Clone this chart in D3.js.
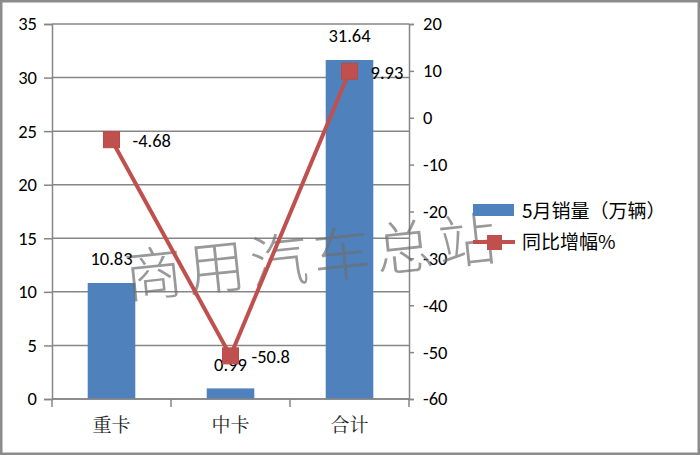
<!DOCTYPE html>
<html><head><meta charset="utf-8">
<script src="https://cdn.jsdelivr.net/npm/d3@7"></script>
<style>html,body{margin:0;padding:0;background:#fff;}</style>
</head><body>
<svg id="c" width="700" height="455"></svg>
<script>
const categories = ["重卡", "中卡", "合计"];
const sales = [10.83, 0.99, 31.64];
const growth = [-4.68, -50.8, 9.93];
const leftTicks = [0, 5, 10, 15, 20, 25, 30, 35];
const rightTicks = [-60, -50, -40, -30, -20, -10, 0, 10, 20];
const seriesNames = ["5月销量（万辆）", "同比增幅%"];
const watermark = "商用汽车总站";

const svg = d3.select("#c");
const W = 700, H = 455;
const m = {left: 52, right: 409, top: 24, bottom: 399};
const numFont = "Carlito, Calibri, Lato, sans-serif";
const numSize = 18.5;
const cjkFont = "'Noto Sans CJK SC', sans-serif";
const gridColor = "#868686";
const blue = "#4F81BD", red = "#C0504D";

svg.append("rect").attr("x", 1.25).attr("y", 1.25).attr("width", W - 2.5).attr("height", H - 2.5)
  .attr("fill", "#fff").attr("stroke", "#8c8c8c").attr("stroke-width", 2.5);

const x = d3.scaleBand().domain(categories).range([m.left, m.right]).paddingInner(0.6).paddingOuter(0.3);
const xOuter = d3.scaleBand().domain(categories).range([m.left, m.right]);
const yL = d3.scaleLinear().domain([0, 35]).range([m.bottom, m.top]);
const yR = d3.scaleLinear().domain([-60, 20]).range([m.bottom, m.top]);

// gridlines
svg.append("g").selectAll("line").data(leftTicks).join("line")
  .attr("x1", m.left).attr("x2", m.right)
  .attr("y1", d => yL(d)).attr("y2", d => yL(d))
  .attr("stroke", gridColor).attr("stroke-width", 1.5);

// left axis
const gL = svg.append("g").attr("transform", `translate(${m.left},0)`)
  .call(d3.axisLeft(yL).tickValues(leftTicks).tickSize(8).tickPadding(7));
gL.select(".domain").attr("stroke", gridColor).attr("stroke-width", 1.5);
gL.selectAll(".tick line").attr("stroke", gridColor).attr("stroke-width", 1.5);
gL.selectAll(".tick text").attr("font-family", numFont).attr("font-size", numSize).attr("fill", "#000");

// right axis
const gR = svg.append("g").attr("transform", `translate(${m.right},0)`)
  .call(d3.axisRight(yR).tickValues(rightTicks).tickSize(5).tickPadding(9).tickFormat(d => String(d)));
gR.select(".domain").attr("stroke", gridColor).attr("stroke-width", 1.5);
gR.selectAll(".tick line").attr("stroke", gridColor).attr("stroke-width", 1.5);
gR.selectAll(".tick text").attr("font-family", numFont).attr("font-size", numSize).attr("fill", "#000");

// bars
svg.append("g").selectAll("rect").data(sales).join("rect")
  .attr("x", (d, i) => x(categories[i])).attr("width", x.bandwidth())
  .attr("y", d => yL(d)).attr("height", d => yL(0) - yL(d))
  .attr("fill", blue);

// bottom axis
const gB = svg.append("g").attr("transform", `translate(0,${m.bottom})`);
gB.append("line").attr("x1", m.left).attr("x2", m.right).attr("stroke", gridColor).attr("stroke-width", 1.5);
const bTicks = categories.map(c => xOuter(c)).concat([m.right]);
gB.selectAll("line.t").data(bTicks).join("line").attr("class", "t")
  .attr("x1", d => d).attr("x2", d => d).attr("y1", 0).attr("y2", 8)
  .attr("stroke", gridColor).attr("stroke-width", 1.5);
gB.selectAll("text").data(categories).join("text")
  .attr("x", d => xOuter(d) + xOuter.bandwidth() / 2).attr("y", 26)
  .attr("dy", "0.35em").attr("text-anchor", "middle")
  .attr("font-family", "'Noto Serif CJK SC', " + cjkFont).attr("font-size", 19).attr("fill", "#222")
  .text(d => d);

// watermark
svg.append("text").attr("transform", "translate(127,298) rotate(-6)")
  .attr("font-family", cjkFont).attr("font-weight", 200).attr("font-size", 58)
  .attr("letter-spacing", 5)
  .attr("fill", "#6e6e6e").attr("fill-opacity", 0.7).text(watermark);

// bar labels
svg.append("g").selectAll("text").data(sales).join("text")
  .attr("x", (d, i) => xOuter(categories[i]) + xOuter.bandwidth() / 2)
  .attr("y", d => yL(d) - 24).attr("dy", "0.35em").attr("text-anchor", "middle")
  .attr("font-family", numFont).attr("font-size", numSize).attr("fill", "#000")
  .text(d => d.toFixed(2));

// line
const cx = i => xOuter(categories[i]) + xOuter.bandwidth() / 2;
svg.append("path").datum(growth)
  .attr("d", d3.line().x((d, i) => cx(i)).y(d => yR(d)))
  .attr("fill", "none").attr("stroke", red).attr("stroke-width", 4);
svg.append("g").selectAll("rect").data(growth).join("rect")
  .attr("x", (d, i) => cx(i) - 8).attr("y", d => yR(d) - 8)
  .attr("width", 16).attr("height", 16).attr("fill", red).attr("stroke", "#b84a47").attr("stroke-width", 1);
svg.append("g").selectAll("text").data(growth).join("text")
  .attr("x", (d, i) => cx(i) + 21).attr("y", d => yR(d) + 1).attr("dy", "0.35em")
  .attr("font-family", numFont).attr("font-size", numSize).attr("fill", "#000")
  .text(d => String(d));

// legend
const lg = svg.append("g");
lg.append("rect").attr("x", 473).attr("y", 204).attr("width", 41).attr("height", 12).attr("fill", blue);
lg.append("line").attr("x1", 473).attr("x2", 515).attr("y1", 242).attr("y2", 242).attr("stroke", red).attr("stroke-width", 4);
lg.append("rect").attr("x", 487).attr("y", 235).attr("width", 15).attr("height", 15).attr("fill", red);
lg.selectAll("text").data(seriesNames).join("text")
  .attr("x", 522).attr("y", (d, i) => 211 + i * 31).attr("dy", "0.35em")
  .attr("font-family", cjkFont).attr("font-size", 19).attr("fill", "#000")
  .text(d => d);
</script>
</body></html>
